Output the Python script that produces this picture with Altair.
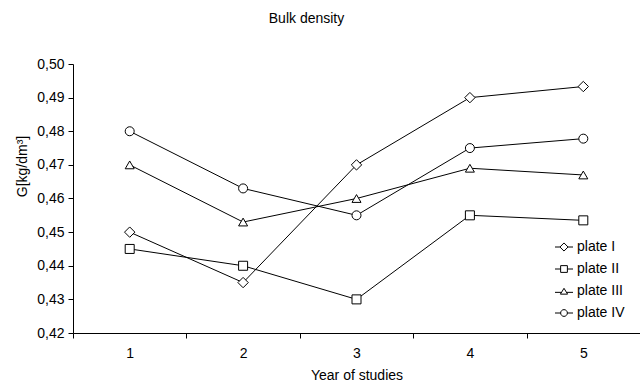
import altair as alt
import pandas as pd

years = [1, 2, 3, 4, 5]
series_names = ["plate I", "plate II", "plate III", "plate IV"]
plate_I = [0.450, 0.435, 0.470, 0.490, 0.4933]
plate_II = [0.445, 0.440, 0.430, 0.455, 0.4535]
plate_III = [0.470, 0.453, 0.460, 0.469, 0.467]
plate_IV = [0.480, 0.463, 0.455, 0.475, 0.4778]
y_ticks = [0.42, 0.43, 0.44, 0.45, 0.46, 0.47, 0.48, 0.49, 0.50]
x_ticks = [0.5, 1, 1.5, 2, 2.5, 3, 3.5, 4, 4.5, 5, 5.5]

rows = []
for name, vals in zip(series_names, [plate_I, plate_II, plate_III, plate_IV]):
    for yr, v in zip(years, vals):
        rows.append({"year": yr, "value": v, "plate": name})
df = pd.DataFrame(rows)

FONT = "Liberation Sans"
FS = 14

x_enc = alt.X(
    "year:Q",
    scale=alt.Scale(domain=[0.5, 5.5], nice=False, zero=False),
    axis=alt.Axis(
        values=x_ticks,
        title="Year of studies",
        grid=False,
        labelExpr="datum.value % 1 == 0 ? format(datum.value, 'd') : ''",
        tickOpacity={"condition": {"test": "datum.value % 1 == 0", "value": 0}, "value": 1},
        tickSize=5,
        labelPadding=8,
        titlePadding=8,
        labelFlush=False,
    ),
)
y_enc = alt.Y(
    "value:Q",
    scale=alt.Scale(domain=[0.42, 0.50], nice=False, zero=False),
    axis=alt.Axis(
        values=y_ticks,
        title="G[kg/dm³]",
        grid=False,
        labelExpr="replace(format(datum.value, '.2f'), '.', ',')",
        tickSize=5,
        labelPadding=4,
        titleX=-44,
        titleY=102,
    ),
)

# marker glyphs on the lines
marker_paths = [
    "M0,-1.15L1.15,0L0,1.15L-1.15,0Z",
    "square",
    "triangle-up",
    "circle",
]
# legend glyphs: short line with the marker in the middle
legend_paths = [
    "M-2,0L-0.9,0M0.9,0L2,0M0,-0.9L0.9,0L0,0.9L-0.9,0Z",
    "M-2,0L-0.75,0M0.75,0L2,0M-0.75,-0.75L0.75,-0.75L0.75,0.75L-0.75,0.75Z",
    "M-2,0.3L-0.62,0.3M0.62,0.3L2,0.3M0,-0.6L0.8,0.7L-0.8,0.7Z",
    "M-2,0L-0.75,0M0.75,0L2,0M0.75,0A0.75,0.75,0,1,1,-0.75,0A0.75,0.75,0,1,1,0.75,0Z",
]

base = alt.Chart(df)
lines = base.mark_line(color="black", strokeWidth=1).encode(
    x=x_enc, y=y_enc, detail="plate:N"
)
points = base.mark_point(
    filled=True, fill="white", stroke="black", strokeWidth=1, size=81, opacity=1
).encode(
    x=x_enc,
    y=y_enc,
    shape=alt.Shape(
        "plate:N",
        scale=alt.Scale(domain=series_names, range=marker_paths),
        legend=None,
    ),
)
legend_layer = base.transform_filter("datum.year < 0").mark_point(
    filled=False, color="black", strokeWidth=1, size=81
).encode(
    x=x_enc,
    y=y_enc,
    shape=alt.Shape(
        "plate:N",
        scale=alt.Scale(domain=series_names, range=legend_paths),
        legend=alt.Legend(
            title=None,
            orient="none",
            legendX=484,
            legendY=176,
            padding=0,
            rowPadding=8,
            symbolSize=81,
            symbolStrokeColor="black",
            symbolStrokeWidth=1,
            symbolOpacity=1,
            labelOffset=6,
            labelFontSize=FS,
            labelFont=FONT,
            labelColor="black",
        ),
    ),
)

chart = (
    alt.layer(lines, points, legend_layer)
    .resolve_scale(shape="independent")
    .properties(
        width=567,
        height=269,
        background="white",
        title=alt.TitleParams(
            "Bulk density",
            fontSize=FS,
            fontWeight="normal",
            font=FONT,
            color="black",
            anchor="middle",
            dx=-50,
            offset=31,
        ),
        autosize=alt.AutoSizeParams(type="none"),
        padding={"left": 73, "top": 64, "right": 0, "bottom": 52},
    )
    .configure_view(stroke=None)
    .configure_axis(
        labelFont=FONT,
        titleFont=FONT,
        labelFontSize=FS,
        titleFontSize=FS,
        titleFontWeight="normal",
        labelColor="black",
        titleColor="black",
        domainColor="black",
        tickColor="black",
        domainWidth=1,
        tickWidth=1,
    )
)

chart.save("out.html", embed_options={"renderer": "svg", "actions": False})
